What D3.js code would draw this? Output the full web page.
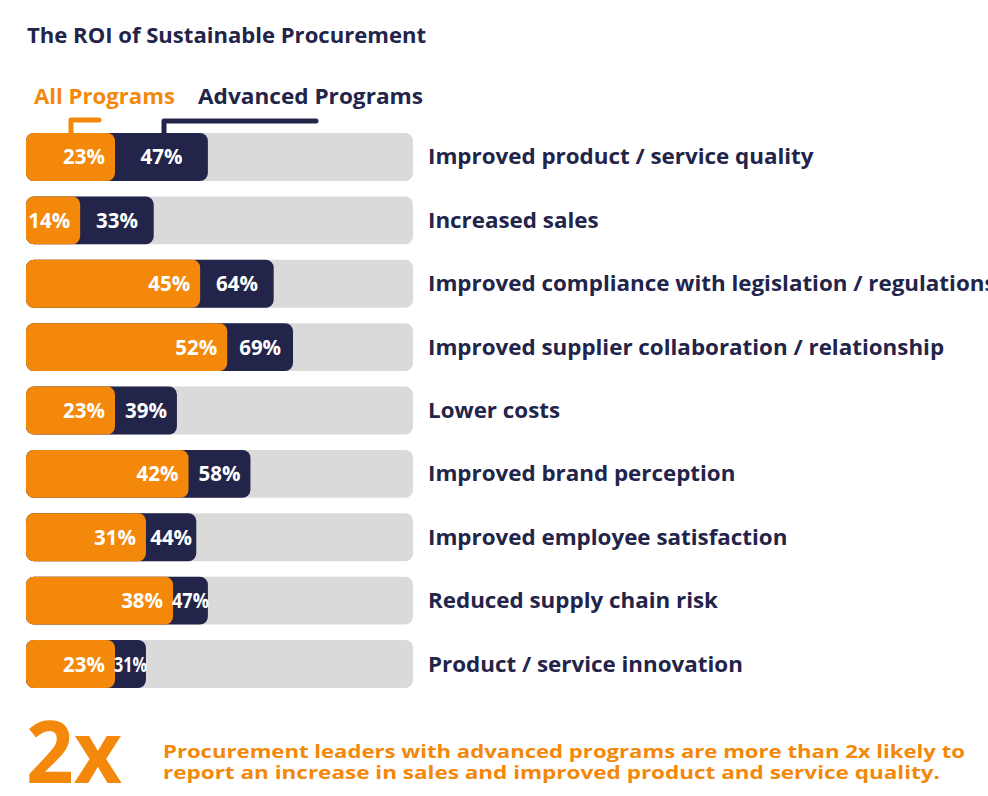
<!DOCTYPE html>
<html>
<head>
<meta charset="utf-8">
<script src="https://cdn.jsdelivr.net/npm/d3@7"></script>
<style>
  html, body { margin: 0; padding: 0; background: #ffffff; }
  svg { display: block; }
  text { font-family: "Open Sans", Lato, sans-serif; font-weight: 700; }
</style>
</head>
<body>
<svg id="chart" width="988" height="796"></svg>
<script>
const title = "The ROI of Sustainable Procurement";
const seriesNames = ["All Programs", "Advanced Programs"];
const categories = [
  "Improved product / service quality",
  "Increased sales",
  "Improved compliance with legislation / regulations",
  "Improved supplier collaboration / relationship",
  "Lower costs",
  "Improved brand perception",
  "Improved employee satisfaction",
  "Reduced supply chain risk",
  "Product / service innovation"
];
const allPrograms = [23, 14, 45, 52, 23, 42, 31, 38, 23];
const advancedPrograms = [47, 33, 64, 69, 39, 58, 44, 47, 31];
const calloutBig = "2x";
const calloutLines = [
  "Procurement leaders with advanced programs are more than 2x likely to",
  "report an increase in sales and improved product and service quality."
];

const ORANGE = "#f3880b";
const NAVY = "#22244a";
const GRAY = "#dadada";

const svg = d3.select("#chart");

const x = d3.scaleLinear().domain([0, 100]).range([26, 413]);
const y = d3.scaleBand().domain(categories).range([133, 688]).paddingInner(0.243).paddingOuter(0);

// helper: stretch a text horizontally to a target width
function fitWidth(sel, w) {
  sel.attr("textLength", w).attr("lengthAdjust", "spacingAndGlyphs");
}

// Title
svg.append("text").attr("x", 27).attr("y", 43)
  .attr("font-size", 21).attr("fill", NAVY).text(title)
  .call(fitWidth, 399);

// Legend
svg.append("text").attr("x", 34).attr("y", 104).attr("font-size", 21)
  .attr("fill", ORANGE).text(seriesNames[0]).call(fitWidth, 141);
svg.append("text").attr("x", 198).attr("y", 104).attr("font-size", 21)
  .attr("fill", NAVY).text(seriesNames[1]).call(fitWidth, 225);

// Legend brackets
svg.append("path").attr("d", "M99,120 H71 V133")
  .attr("fill", "none").attr("stroke", ORANGE).attr("stroke-width", 5)
  .attr("stroke-linecap", "round").attr("stroke-linejoin", "round");
svg.append("path").attr("d", "M316,121 H164 V133")
  .attr("fill", "none").attr("stroke", NAVY).attr("stroke-width", 5)
  .attr("stroke-linecap", "round").attr("stroke-linejoin", "round");

const rows = svg.append("g").selectAll("g").data(categories).join("g")
  .attr("transform", d => `translate(0,${y(d)})`);

const bh = y.bandwidth();
const r = 8;

rows.append("rect").attr("x", x(0)).attr("y", 0)
  .attr("width", x(100) - x(0)).attr("height", bh)
  .attr("rx", r).attr("fill", GRAY);

rows.append("rect").attr("x", x(0)).attr("y", 0)
  .attr("width", (d, i) => x(advancedPrograms[i]) - x(0)).attr("height", bh)
  .attr("rx", r).attr("fill", NAVY);

rows.append("rect").attr("x", x(0)).attr("y", 0)
  .attr("width", (d, i) => x(allPrograms[i]) - x(0)).attr("height", bh)
  .attr("rx", r).attr("fill", ORANGE);

// value labels
rows.append("text")
  .attr("x", (d, i) => x(allPrograms[i]) - 10)
  .attr("y", bh / 2 + 7.5)
  .attr("text-anchor", "end")
  .attr("font-size", 20.5).attr("fill", "#ffffff")
  .text((d, i) => allPrograms[i] + "%");

rows.append("text")
  .attr("x", (d, i) => (x(allPrograms[i]) + x(advancedPrograms[i])) / 2)
  .attr("y", bh / 2 + 7.5)
  .attr("text-anchor", "middle")
  .attr("font-size", 20.5).attr("fill", "#ffffff")
  .text((d, i) => advancedPrograms[i] + "%")
  .each(function(d, i) {
    const seg = x(advancedPrograms[i]) - x(allPrograms[i]) + 2;
    const w = this.getComputedTextLength();
    if (w > seg) d3.select(this).call(fitWidth, seg);
  });

// category labels
rows.append("text")
  .attr("x", 428).attr("y", bh / 2 + 7.5)
  .attr("font-size", 21).attr("fill", NAVY)
  .text(d => d)
  .each(function() {
    const w = this.getComputedTextLength();
    d3.select(this).call(fitWidth, w * 1.065);
  });

// Callout
svg.append("text").attr("x", 26).attr("y", 783)
  .attr("font-size", 86).attr("font-family", "Lato, sans-serif").attr("font-weight", 900)
  .attr("fill", ORANGE)
  .call(fitWidth, 96)
  .text(calloutBig);

svg.selectAll("text.callout").data(calloutLines).join("text")
  .attr("class", "callout")
  .attr("x", 163).attr("y", (d, i) => 758 + i * 21)
  .attr("font-size", 17).attr("fill", ORANGE)
  .each(function(d, i) {
    d3.select(this).call(fitWidth, i === 0 ? 802 : 777);
  })
  .text(d => d);
</script>
</body>
</html>
